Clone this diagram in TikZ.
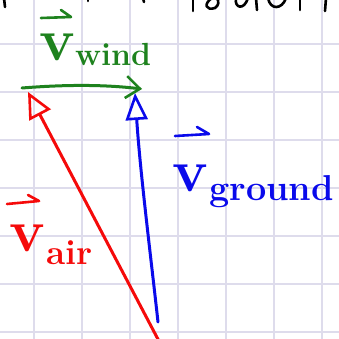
\documentclass[tikz,border=0pt]{standalone}
\usetikzlibrary{arrows.meta}
\definecolor{gridc}{RGB}{222,220,236}
\definecolor{pgreen}{RGB}{30,130,30}
\definecolor{pblue}{RGB}{10,10,235}
\definecolor{pred}{RGB}{245,10,10}
\tikzset{
  ink/.style={line width=3pt, line cap=round, line join=round},
  vecbar/.style={ink, line width=2.6pt},
  vletter/.style={inner sep=0pt, anchor=base west, font=\fontsize{60}{60}\selectfont\bfseries},
  subtext/.style={inner sep=0pt, anchor=base west},
}
\begin{document}
\begin{tikzpicture}[x=1pt,y=-1pt]
\useasboundingbox (0,0) rectangle (339,339);
\clip (0,0) rectangle (339,339);
\fill[white] (0,0) rectangle (339,339);
% grid
\foreach \g in {34,82,130,178,226,274,322} {
  \draw[gridc, line width=1.4pt] (\g,0) -- (\g,339);
  \draw[gridc, line width=1.4pt] (0,\g+10) -- (339,\g+10);
}
% cut-off black writing at the top
\begin{scope}[ink, black, line width=2.6pt]
  \draw (4,-2) -- (5,7);
  \draw (88,-2) -- (88,1);
  \draw (143,-2) -- (144,2);
  \draw (193,-2) -- (193,11);
  \draw (212,-2) .. controls (203,4) and (206,11) .. (215,8) .. controls (219,5) and (219,2) .. (217,-2);
  \draw (236,-2) .. controls (234,8) and (244,11) .. (248,-2);
  \draw (256,-2) -- (257,10);
  \draw (268,-2) .. controls (270,10) and (282,10) .. (286,-2);
  \draw (300,-2) -- (300,10);
  \draw (326,-2) -- (325,11);
\end{scope}
% vector endpoints
\coordinate (O) at (161,345);
\coordinate (A) at (28,92);
\coordinate (G0) at (158,322);
\coordinate (G) at (135,93);
\coordinate (W0) at (22,88);
\coordinate (W) at (142,89);
% arrows
\draw[ink, pred, -{Triangle[open, length=26pt, width=24pt, line width=2.6pt]}] (O) -- (A);
\draw[ink, pblue, -{Triangle[open, length=27pt, width=22pt, line width=2.6pt]}] (G0) .. controls (150,250) and (140,170) .. (G);
\draw[ink, pgreen, -{Straight Barb[length=14pt, width=22pt, line width=2.6pt]}] (W0) .. controls (60,85) and (100,84) .. (W);
% labels: wind
\node[vletter, pgreen] (vw) at (39,61) {v};
\node[subtext, pgreen, font=\fontsize{32}{32}\selectfont\bfseries] (sw) at (75,66) {wind};
\coordinate (vwa) at (41,18); \coordinate (vwb) at (71,17);
\draw[vecbar, pgreen] (vwa) -- (vwb) -- (61,10);
% labels: ground
\node[vletter, pblue] (vg) at (172,191) {v};
\node[subtext, pblue, font=\fontsize{36}{36}\selectfont\bfseries] (sg) at (209,200) {ground};
\coordinate (vga) at (175,136); \coordinate (vgb) at (209,134);
\draw[vecbar, pblue] (vga) -- (vgb) -- (197,127);
% labels: air
\node[vletter, pred] (va) at (9,251) {v};
\node[subtext, pred, font=\fontsize{35}{35}\selectfont\bfseries] (sa) at (46,264) {air};
\coordinate (vaa) at (7,204); \coordinate (vab) at (39,201);
\draw[vecbar, pred] (vaa) -- (vab) -- (28,195);
\end{tikzpicture}
\end{document}
